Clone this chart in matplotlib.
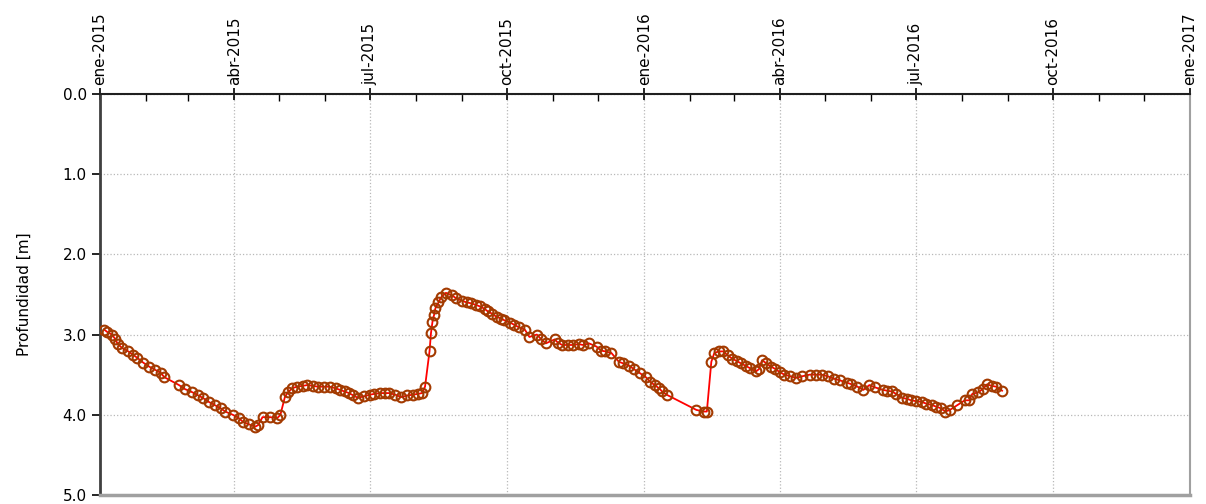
import matplotlib
matplotlib.use("Agg")
import matplotlib.pyplot as plt
import matplotlib.dates as mdates
import pandas as pd

# Lecturas de nivel (fecha, profundidad en m)
fechas = [
    "2015-01-04", "2015-01-06", "2015-01-09", "2015-01-11", "2015-01-13", "2015-01-16",
    "2015-01-20", "2015-01-23", "2015-01-26", "2015-01-30", "2015-02-03", "2015-02-07",
    "2015-02-11", "2015-02-13", "2015-02-23", "2015-02-27", "2015-03-04", "2015-03-08",
    "2015-03-11", "2015-03-15", "2015-03-19", "2015-03-23", "2015-03-26", "2015-03-31",
    "2015-04-04", "2015-04-07", "2015-04-11", "2015-04-15", "2015-04-17", "2015-04-20",
    "2015-04-25", "2015-04-30", "2015-05-02", "2015-05-05", "2015-05-07", "2015-05-10",
    "2015-05-13", "2015-05-17", "2015-05-20", "2015-05-24", "2015-05-27", "2015-05-31",
    "2015-06-04", "2015-06-08", "2015-06-11", "2015-06-14", "2015-06-17", "2015-06-20",
    "2015-06-23", "2015-06-27", "2015-07-01", "2015-07-04", "2015-07-08", "2015-07-11",
    "2015-07-14", "2015-07-18", "2015-07-22", "2015-07-26", "2015-07-30", "2015-08-02",
    "2015-08-05", "2015-08-07", "2015-08-10", "2015-08-11", "2015-08-12", "2015-08-13",
    "2015-08-14", "2015-08-16", "2015-08-18", "2015-08-21", "2015-08-25", "2015-08-28",
    "2015-09-01", "2015-09-04", "2015-09-07", "2015-09-10", "2015-09-13", "2015-09-16",
    "2015-09-18", "2015-09-21", "2015-09-24", "2015-09-27", "2015-09-29", "2015-10-03",
    "2015-10-06", "2015-10-09", "2015-10-13", "2015-10-16", "2015-10-21", "2015-10-24",
    "2015-10-27", "2015-11-02", "2015-11-04", "2015-11-07", "2015-11-11", "2015-11-14",
    "2015-11-18", "2015-11-21", "2015-11-25", "2015-11-30", "2015-12-03", "2015-12-06",
    "2015-12-10", "2015-12-15", "2015-12-18", "2015-12-22", "2015-12-25", "2015-12-29",
    "2016-01-02", "2016-01-05", "2016-01-08", "2016-01-11", "2016-01-13", "2016-01-16",
    "2016-02-05", "2016-02-10", "2016-02-12", "2016-02-15", "2016-02-17", "2016-02-20",
    "2016-02-23", "2016-02-26", "2016-02-29", "2016-03-03", "2016-03-06", "2016-03-09",
    "2016-03-12", "2016-03-16", "2016-03-18", "2016-03-20", "2016-03-23", "2016-03-26",
    "2016-03-29", "2016-04-01", "2016-04-04", "2016-04-08", "2016-04-12", "2016-04-16",
    "2016-04-21", "2016-04-25", "2016-04-29", "2016-05-03", "2016-05-07", "2016-05-11",
    "2016-05-16", "2016-05-19", "2016-05-23", "2016-05-27", "2016-05-31", "2016-06-04",
    "2016-06-09", "2016-06-12", "2016-06-15", "2016-06-18", "2016-06-22", "2016-06-25",
    "2016-06-28", "2016-07-01", "2016-07-05", "2016-07-08", "2016-07-12", "2016-07-15",
    "2016-07-18", "2016-07-21", "2016-07-24", "2016-07-29", "2016-08-03", "2016-08-06",
    "2016-08-08", "2016-08-12", "2016-08-15", "2016-08-18", "2016-08-21", "2016-08-24",
    "2016-08-28",
]
profundidad = [
    2.94, 2.97, 3.00, 3.05, 3.12, 3.17,
    3.21, 3.25, 3.29, 3.35, 3.40, 3.44,
    3.48, 3.53, 3.63, 3.68, 3.72, 3.76,
    3.79, 3.84, 3.88, 3.92, 3.96, 4.00,
    4.04, 4.09, 4.12, 4.15, 4.13, 4.03,
    4.03, 4.04, 4.00, 3.78, 3.72, 3.67,
    3.65, 3.64, 3.63, 3.64, 3.65, 3.65,
    3.65, 3.67, 3.69, 3.71, 3.73, 3.76,
    3.79, 3.77, 3.75, 3.74, 3.73, 3.73,
    3.73, 3.75, 3.78, 3.76, 3.75, 3.74,
    3.73, 3.65, 3.21, 2.98, 2.84, 2.76,
    2.67, 2.60, 2.53, 2.48, 2.51, 2.55,
    2.58, 2.60, 2.61, 2.63, 2.65, 2.68,
    2.71, 2.74, 2.78, 2.80, 2.82, 2.85,
    2.88, 2.91, 2.94, 3.03, 3.00, 3.06,
    3.11, 3.06, 3.10, 3.13, 3.13, 3.13,
    3.12, 3.13, 3.11, 3.15, 3.20, 3.21,
    3.23, 3.34, 3.36, 3.39, 3.43, 3.48,
    3.53, 3.59, 3.63, 3.67, 3.71, 3.75,
    3.94, 3.96, 3.96, 3.34, 3.23, 3.21,
    3.21, 3.26, 3.30, 3.33, 3.36, 3.39,
    3.42, 3.46, 3.43, 3.32, 3.36, 3.40,
    3.43, 3.47, 3.50, 3.52, 3.54, 3.52,
    3.50, 3.50, 3.50, 3.52, 3.55, 3.57,
    3.60, 3.62, 3.65, 3.69, 3.63, 3.66,
    3.69, 3.70, 3.71, 3.74, 3.79, 3.80,
    3.82, 3.83, 3.84, 3.86, 3.88, 3.90,
    3.92, 3.96, 3.94, 3.88, 3.82, 3.82,
    3.74, 3.72, 3.68, 3.62, 3.64, 3.65,
    3.70,
]

meses = ["ene", "feb", "mar", "abr", "may", "jun",
         "jul", "ago", "sep", "oct", "nov", "dic"]

fechas = pd.to_datetime(fechas)

fig = plt.figure(figsize=(12.06, 5.04), dpi=100)
ax = fig.add_axes([0.0829, 0.018, 0.9038, 0.7955])

ax.plot(fechas, profundidad, color="#ff0000", lw=1.3, zorder=2)
ax.plot(fechas, profundidad, ls="none", marker="o", ms=7, mfc="none",
        mec="#a33a00", mew=1.5, zorder=3)

ax.set_xlim(pd.Timestamp("2015-01-01"), pd.Timestamp("2017-01-01"))
ax.set_ylim(5.0, 0.0)

ax.xaxis.set_major_locator(mdates.MonthLocator(bymonth=[1, 4, 7, 10]))
ax.xaxis.set_minor_locator(mdates.MonthLocator())
ax.xaxis.set_major_formatter(
    plt.FuncFormatter(lambda v, p: f"{meses[mdates.num2date(v).month - 1]}-{mdates.num2date(v).year}"))
ax.xaxis.tick_top()
ax.tick_params(axis="x", which="major", direction="inout", length=9, width=1.2,
               labelsize=11, labelrotation=90, pad=2)
ax.tick_params(axis="x", which="minor", direction="in", length=5, width=1.0)

ax.set_yticks([0, 1, 2, 3, 4, 5])
ax.yaxis.set_major_formatter(plt.FormatStrFormatter("%.1f"))
ax.tick_params(axis="y", direction="out", length=6, width=1.2, labelsize=11)
ax.set_ylabel("Profundidad [m]", fontsize=11, labelpad=22)

ax.grid(True, which="major", color="#b8b8b8", ls=":", lw=0.9)

ax.spines["top"].set_color("#202020")
ax.spines["top"].set_linewidth(1.5)
ax.spines["left"].set_color("#404040")
ax.spines["left"].set_linewidth(2.0)
ax.spines["right"].set_color("#a0a0a0")
ax.spines["right"].set_linewidth(1.5)
ax.spines["bottom"].set_color("#a0a0a0")
ax.spines["bottom"].set_linewidth(2.5)

fig.savefig("out.png", dpi=100)
